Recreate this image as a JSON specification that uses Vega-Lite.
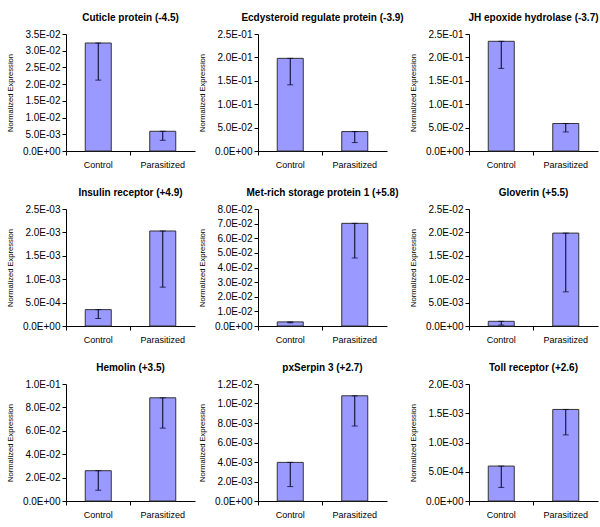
{
  "$schema": "https://vega.github.io/schema/vega-lite/v6.json",
  "padding": {"left": 6, "top": 13, "right": 4, "bottom": 4},
  "background": "white",
  "data": {"values": [
    {"gene": "Cuticle protein (-4.5)", "group": "Control", "value": 0.0323, "low": 0.0212},
    {"gene": "Cuticle protein (-4.5)", "group": "Parasitized", "value": 0.0059, "low": 0.0032},
    {"gene": "Ecdysteroid regulate protein  (-3.9)", "group": "Control", "value": 0.198, "low": 0.1414},
    {"gene": "Ecdysteroid regulate protein  (-3.9)", "group": "Parasitized", "value": 0.0415, "low": 0.018},
    {"gene": "JH epoxide hydrolase (-3.7)", "group": "Control", "value": 0.2344, "low": 0.1765},
    {"gene": "JH epoxide hydrolase (-3.7)", "group": "Parasitized", "value": 0.0587, "low": 0.0407},
    {"gene": "Insulin receptor (+4.9)", "group": "Control", "value": 0.00035, "low": 0.00016},
    {"gene": "Insulin receptor (+4.9)", "group": "Parasitized", "value": 0.00203, "low": 0.00083},
    {"gene": "Met-rich storage protein 1 (+5.8)", "group": "Control", "value": 0.0028, "low": 0.0022},
    {"gene": "Met-rich storage protein 1 (+5.8)", "group": "Parasitized", "value": 0.0702, "low": 0.0465},
    {"gene": "Gloverin (+5.5)", "group": "Control", "value": 0.001, "low": 0.0002},
    {"gene": "Gloverin (+5.5)", "group": "Parasitized", "value": 0.01985, "low": 0.0073},
    {"gene": "Hemolin (+3.5)", "group": "Control", "value": 0.0259, "low": 0.0092},
    {"gene": "Hemolin (+3.5)", "group": "Parasitized", "value": 0.0882, "low": 0.0623},
    {"gene": "pxSerpin 3 (+2.7)", "group": "Control", "value": 0.00396, "low": 0.00148},
    {"gene": "pxSerpin 3 (+2.7)", "group": "Parasitized", "value": 0.01079, "low": 0.00769},
    {"gene": "Toll receptor (+2.6)", "group": "Control", "value": 0.000597, "low": 0.000232},
    {"gene": "Toll receptor (+2.6)", "group": "Parasitized", "value": 0.001565, "low": 0.00113}
  ]},
  "columns": 3,
  "spacing": {"row": 19, "column": 3},
  "config": {
    "font": "Liberation Sans",
    "view": {"stroke": null},
    "title": {"fontSize": 10, "fontWeight": "bold", "anchor": "middle", "frame": "group", "offset": 6, "color": "#000"},
    "axisY": {
      "labelExpr": "replace(replace(upper(format(datum.value,'.1e')),'E-','E-0'),'E+','E+0')",
      "labelOverlap": false,
      "grid": false, "tickSize": 4, "labelPadding": 2, "labelFontSize": 10, "labelColor": "#000",
      "titleFontSize": 7.6, "titleFontWeight": "normal", "titleColor": "#000", "titlePadding": 8,
      "domainColor": "#000", "tickColor": "#000"
    },
    "axisX": {
      "title": null, "labelAngle": 0, "bandPosition": 0, "tickSize": 4,
      "labelPadding": 5, "labelFontSize": 9, "labelColor": "#000", "domainColor": "#000", "tickColor": "#000", "grid": false
    }
  },
  "concat": [
    {"title": "Cuticle protein (-4.5)", "width": 129, "height": 117,
     "transform": [{"filter": "datum.gene === 'Cuticle protein (-4.5)'"}],
     "encoding": {"x": {"field": "group", "type": "nominal", "scale": {"paddingInner": 0, "paddingOuter": 0}, "title": null}},
     "layer": [
      {"mark": {"type": "bar", "size": 26, "fill": "#9999FF", "stroke": "#333333", "strokeWidth": 1},
       "encoding": {"y": {"field": "value", "type": "quantitative", "title": "Normalized Expression", "scale": {"domain": [0, 0.035], "nice": false}, "axis": {"labelOverlap": false, "values": [0, 0.005, 0.01, 0.015, 0.02, 0.025, 0.03, 0.035]}}}},
      {"mark": {"type": "errorbar", "color": "#000022", "thickness": 1, "ticks": {"size": 6}},
       "encoding": {"y": {"field": "low", "type": "quantitative", "title": "Normalized Expression", "axis": {"labelOverlap": false, "values": [0, 0.005, 0.01, 0.015, 0.02, 0.025, 0.03, 0.035]}}, "y2": {"field": "value"}}}
     ]},
    {"title": "Ecdysteroid regulate protein  (-3.9)", "width": 129, "height": 117,
     "transform": [{"filter": "datum.gene === 'Ecdysteroid regulate protein  (-3.9)'"}],
     "encoding": {"x": {"field": "group", "type": "nominal", "scale": {"paddingInner": 0, "paddingOuter": 0}, "title": null}},
     "layer": [
      {"mark": {"type": "bar", "size": 26, "fill": "#9999FF", "stroke": "#333333", "strokeWidth": 1},
       "encoding": {"y": {"field": "value", "type": "quantitative", "title": "Normalized Expression", "scale": {"domain": [0, 0.25], "nice": false}, "axis": {"labelOverlap": false, "values": [0, 0.05, 0.1, 0.15, 0.2, 0.25]}}}},
      {"mark": {"type": "errorbar", "color": "#000022", "thickness": 1, "ticks": {"size": 6}},
       "encoding": {"y": {"field": "low", "type": "quantitative", "title": "Normalized Expression", "axis": {"labelOverlap": false, "values": [0, 0.05, 0.1, 0.15, 0.2, 0.25]}}, "y2": {"field": "value"}}}
     ]},
    {"title": "JH epoxide hydrolase (-3.7)", "width": 129, "height": 117,
     "transform": [{"filter": "datum.gene === 'JH epoxide hydrolase (-3.7)'"}],
     "encoding": {"x": {"field": "group", "type": "nominal", "scale": {"paddingInner": 0, "paddingOuter": 0}, "title": null}},
     "layer": [
      {"mark": {"type": "bar", "size": 26, "fill": "#9999FF", "stroke": "#333333", "strokeWidth": 1},
       "encoding": {"y": {"field": "value", "type": "quantitative", "title": "Normalized Expression", "scale": {"domain": [0, 0.25], "nice": false}, "axis": {"labelOverlap": false, "values": [0, 0.05, 0.1, 0.15, 0.2, 0.25]}}}},
      {"mark": {"type": "errorbar", "color": "#000022", "thickness": 1, "ticks": {"size": 6}},
       "encoding": {"y": {"field": "low", "type": "quantitative", "title": "Normalized Expression", "axis": {"labelOverlap": false, "values": [0, 0.05, 0.1, 0.15, 0.2, 0.25]}}, "y2": {"field": "value"}}}
     ]},
    {"title": "Insulin receptor (+4.9)", "width": 129, "height": 117,
     "transform": [{"filter": "datum.gene === 'Insulin receptor (+4.9)'"}],
     "encoding": {"x": {"field": "group", "type": "nominal", "scale": {"paddingInner": 0, "paddingOuter": 0}, "title": null}},
     "layer": [
      {"mark": {"type": "bar", "size": 26, "fill": "#9999FF", "stroke": "#333333", "strokeWidth": 1},
       "encoding": {"y": {"field": "value", "type": "quantitative", "title": "Normalized Expression", "scale": {"domain": [0, 0.0025], "nice": false}, "axis": {"labelOverlap": false, "values": [0, 0.0005, 0.001, 0.0015, 0.002, 0.0025]}}}},
      {"mark": {"type": "errorbar", "color": "#000022", "thickness": 1, "ticks": {"size": 6}},
       "encoding": {"y": {"field": "low", "type": "quantitative", "title": "Normalized Expression", "axis": {"labelOverlap": false, "values": [0, 0.0005, 0.001, 0.0015, 0.002, 0.0025]}}, "y2": {"field": "value"}}}
     ]},
    {"title": "Met-rich storage protein 1 (+5.8)", "width": 129, "height": 117,
     "transform": [{"filter": "datum.gene === 'Met-rich storage protein 1 (+5.8)'"}],
     "encoding": {"x": {"field": "group", "type": "nominal", "scale": {"paddingInner": 0, "paddingOuter": 0}, "title": null}},
     "layer": [
      {"mark": {"type": "bar", "size": 26, "fill": "#9999FF", "stroke": "#333333", "strokeWidth": 1},
       "encoding": {"y": {"field": "value", "type": "quantitative", "title": "Normalized Expression", "scale": {"domain": [0, 0.08], "nice": false}, "axis": {"labelOverlap": false, "values": [0, 0.01, 0.02, 0.03, 0.04, 0.05, 0.06, 0.07, 0.08]}}}},
      {"mark": {"type": "errorbar", "color": "#000022", "thickness": 1, "ticks": {"size": 6}},
       "encoding": {"y": {"field": "low", "type": "quantitative", "title": "Normalized Expression", "axis": {"labelOverlap": false, "values": [0, 0.01, 0.02, 0.03, 0.04, 0.05, 0.06, 0.07, 0.08]}}, "y2": {"field": "value"}}}
     ]},
    {"title": "Gloverin (+5.5)", "width": 129, "height": 117,
     "transform": [{"filter": "datum.gene === 'Gloverin (+5.5)'"}],
     "encoding": {"x": {"field": "group", "type": "nominal", "scale": {"paddingInner": 0, "paddingOuter": 0}, "title": null}},
     "layer": [
      {"mark": {"type": "bar", "size": 26, "fill": "#9999FF", "stroke": "#333333", "strokeWidth": 1},
       "encoding": {"y": {"field": "value", "type": "quantitative", "title": "Normalized Expression", "scale": {"domain": [0, 0.025], "nice": false}, "axis": {"labelOverlap": false, "values": [0, 0.005, 0.01, 0.015, 0.02, 0.025]}}}},
      {"mark": {"type": "errorbar", "color": "#000022", "thickness": 1, "ticks": {"size": 6}},
       "encoding": {"y": {"field": "low", "type": "quantitative", "title": "Normalized Expression", "axis": {"labelOverlap": false, "values": [0, 0.005, 0.01, 0.015, 0.02, 0.025]}}, "y2": {"field": "value"}}}
     ]},
    {"title": "Hemolin (+3.5)", "width": 129, "height": 117,
     "transform": [{"filter": "datum.gene === 'Hemolin (+3.5)'"}],
     "encoding": {"x": {"field": "group", "type": "nominal", "scale": {"paddingInner": 0, "paddingOuter": 0}, "title": null}},
     "layer": [
      {"mark": {"type": "bar", "size": 26, "fill": "#9999FF", "stroke": "#333333", "strokeWidth": 1},
       "encoding": {"y": {"field": "value", "type": "quantitative", "title": "Normalized Expression", "scale": {"domain": [0, 0.1], "nice": false}, "axis": {"labelOverlap": false, "values": [0, 0.02, 0.04, 0.06, 0.08, 0.1]}}}},
      {"mark": {"type": "errorbar", "color": "#000022", "thickness": 1, "ticks": {"size": 6}},
       "encoding": {"y": {"field": "low", "type": "quantitative", "title": "Normalized Expression", "axis": {"labelOverlap": false, "values": [0, 0.02, 0.04, 0.06, 0.08, 0.1]}}, "y2": {"field": "value"}}}
     ]},
    {"title": "pxSerpin 3 (+2.7)", "width": 129, "height": 117,
     "transform": [{"filter": "datum.gene === 'pxSerpin 3 (+2.7)'"}],
     "encoding": {"x": {"field": "group", "type": "nominal", "scale": {"paddingInner": 0, "paddingOuter": 0}, "title": null}},
     "layer": [
      {"mark": {"type": "bar", "size": 26, "fill": "#9999FF", "stroke": "#333333", "strokeWidth": 1},
       "encoding": {"y": {"field": "value", "type": "quantitative", "title": "Normalized Expression", "scale": {"domain": [0, 0.012], "nice": false}, "axis": {"labelOverlap": false, "values": [0, 0.002, 0.004, 0.006, 0.008, 0.01, 0.012]}}}},
      {"mark": {"type": "errorbar", "color": "#000022", "thickness": 1, "ticks": {"size": 6}},
       "encoding": {"y": {"field": "low", "type": "quantitative", "title": "Normalized Expression", "axis": {"labelOverlap": false, "values": [0, 0.002, 0.004, 0.006, 0.008, 0.01, 0.012]}}, "y2": {"field": "value"}}}
     ]},
    {"title": "Toll receptor (+2.6)", "width": 129, "height": 117,
     "transform": [{"filter": "datum.gene === 'Toll receptor (+2.6)'"}],
     "encoding": {"x": {"field": "group", "type": "nominal", "scale": {"paddingInner": 0, "paddingOuter": 0}, "title": null}},
     "layer": [
      {"mark": {"type": "bar", "size": 26, "fill": "#9999FF", "stroke": "#333333", "strokeWidth": 1},
       "encoding": {"y": {"field": "value", "type": "quantitative", "title": "Normalized Expression", "scale": {"domain": [0, 0.002], "nice": false}, "axis": {"labelOverlap": false, "values": [0, 0.0005, 0.001, 0.0015, 0.002]}}}},
      {"mark": {"type": "errorbar", "color": "#000022", "thickness": 1, "ticks": {"size": 6}},
       "encoding": {"y": {"field": "low", "type": "quantitative", "title": "Normalized Expression", "axis": {"labelOverlap": false, "values": [0, 0.0005, 0.001, 0.0015, 0.002]}}, "y2": {"field": "value"}}}
     ]}
  ]
}
